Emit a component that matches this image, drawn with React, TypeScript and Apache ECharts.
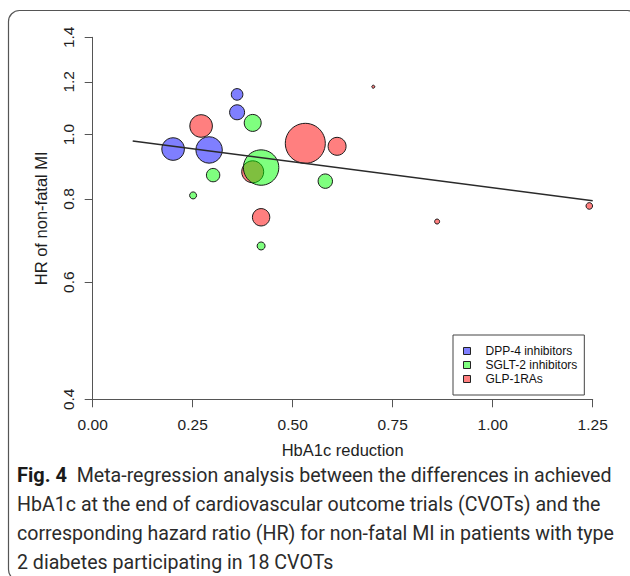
import React, { useEffect, useRef } from "react";
import * as echarts from "echarts";

// ---- data ----
const groupNames = ["DPP-4 inhibitors", "SGLT-2 inhibitors", "GLP-1RAs"];

const dppX = [0.361, 0.361, 0.201, 0.291];
const dppHR = [1.149, 1.08, 0.951, 0.948];
const dppWeight = [5.8, 7.5, 11.3, 13.2];

const sgltX = [0.4, 0.301, 0.251, 0.421, 0.5815, 0.421];
const sgltHR = [1.041, 0.869, 0.81, 0.892, 0.851, 0.68];
const sgltWeight = [8.5, 6.7, 3.5, 17.7, 7.2, 4];

const glpX = [0.271, 0.4, 0.5315, 0.611, 0.421, 0.861, 1.2415, 0.7015];
const glpHR = [1.03, 0.879, 0.97, 0.96, 0.751, 0.74, 0.781, 1.18];
const glpWeight = [11.3, 11, 20, 9, 8.7, 2.5, 3.3, 1.5];

const fitX = [0.1, 1.25];
const fitHR = [0.978, 0.795];

const xTicks = [0, 0.25, 0.5, 0.75, 1.0, 1.25];
const yTicks = [0.4, 0.6, 0.8, 1.0, 1.2, 1.4];

const captionLines = [
  "{b|Fig. 4}  Meta-regression analysis between the differences in achieved",
  "HbA1c at the end of cardiovascular outcome trials (CVOTs) and the",
  "corresponding hazard ratio (HR) for non-fatal MI in patients with type",
  "2 diabetes participating in 18 CVOTs",
];

const colors = ["rgba(0,0,255,0.5)", "rgba(0,255,0,0.5)", "rgba(255,0,0,0.5)"];

const FONT = "'Liberation Sans', Arial, Helvetica, sans-serif";
const CAP_FONT = "Roboto, 'Noto Sans', sans-serif";

function build(xs: number[], hrs: number[], ws: number[]) {
  return xs.map((x, i) => [x, Math.log(hrs[i]), ws[i]]);
}

export default function App() {
  const ref = useRef<HTMLDivElement>(null);
  useEffect(() => {
    if (!ref.current) return;
    const chart = echarts.init(ref.current, undefined, { renderer: "svg" });
    const groups = [
      build(dppX, dppHR, dppWeight),
      build(sgltX, sgltHR, sgltWeight),
      build(glpX, glpHR, glpWeight),
    ];
    // draw order: red first, then green, then blue
    const drawOrder = [2, 1, 0];
    const axisColor = "#555";
    const textColor = "#1e1e1e";
    const option: any = {
      animation: false,
      backgroundColor: "#fff",
      grid: { left: 92.7, top: 37.3, width: 500, height: 362, containLabel: false },
      xAxis: {
        type: "value",
        min: xTicks[0],
        max: xTicks[xTicks.length - 1],
        interval: 0.25,
        axisLine: { show: true, onZero: false, lineStyle: { color: axisColor, width: 1 } },
        axisTick: { show: true, length: 8, lineStyle: { color: axisColor } },
        axisLabel: {
          margin: 17,
          fontSize: 15.5,
          color: textColor,
          fontFamily: FONT,
          formatter: (v: number) => v.toFixed(2),
          showMinLabel: true,
          showMaxLabel: true,
        },
        splitLine: { show: false },
        name: "HbA1c reduction",
        nameLocation: "middle",
        nameGap: 42,
        nameTextStyle: { fontSize: 16.5, color: textColor, fontFamily: FONT },
      },
      yAxis: {
        type: "value",
        min: Math.log(yTicks[0]),
        max: Math.log(yTicks[yTicks.length - 1]),
        axisLine: { show: true, onZero: false, lineStyle: { color: axisColor, width: 1 } },
        axisTick: {
          show: true,
          length: 8,
          customValues: yTicks.map((v) => Math.log(v)),
          lineStyle: { color: axisColor },
        },
        axisLabel: {
          customValues: yTicks.map((v) => Math.log(v)),
          formatter: (v: number) => Math.exp(v).toFixed(1),
          rotate: 90,
          margin: 16,
          fontSize: 15.5,
          color: textColor,
          fontFamily: FONT,
        },
        splitLine: { show: false },
        name: "HR of non-fatal MI",
        nameLocation: "middle",
        nameGap: 43,
        nameRotate: 90,
        nameTextStyle: { fontSize: 16.5, color: textColor, fontFamily: FONT },
      },
      legend: {
        data: groupNames,
        orient: "vertical",
        left: 453,
        top: 335,
        padding: [9, 7, 9, 10],
        itemWidth: 7,
        itemHeight: 7,
        itemGap: 0,
        icon: "rect",
        borderColor: "#444",
        borderWidth: 1,
        borderRadius: 0,
        itemStyle: { borderColor: "#222", borderWidth: 1 },
        textStyle: {
          fontSize: 12,
          lineHeight: 14,
          color: "#111",
          fontFamily: FONT,
          padding: [0, 0, 0, 10],
        },
      },
      series: [
        ...drawOrder.map((gi) => ({
          type: "scatter",
          name: groupNames[gi],
          data: groups[gi],
          symbol: "circle",
          symbolSize: (v: number[]) => v[2] * 2,
          itemStyle: { color: colors[gi], borderColor: "#1a1a1a", borderWidth: 1, opacity: 1 },
          emphasis: { disabled: true },
          z: 2,
        })),
        {
          type: "line",
          name: "fit",
          data: fitX.map((x, i) => [x, Math.log(fitHR[i])]),
          showSymbol: false,
          symbol: "none",
          lineStyle: { color: "#2a2a2a", width: 1.5 },
          z: 3,
          silent: true,
        },
      ],
      graphic: [
        {
          type: "rect",
          shape: { x: 8.5, y: 10.5, width: 630, height: 570, r: 11 },
          style: { fill: "none", stroke: "#555", lineWidth: 1.2 },
          silent: true,
        },
        ...captionLines.map((t, i) => ({
          type: "text",
          x: 17,
          y: 475 + i * 29,
          style: {
            text: t,
            fontSize: 19.6,
            fontFamily: CAP_FONT,
            fill: "#2b2b2b",
            verticalAlign: "middle",
            rich: {
              b: { fontWeight: "bold", fontSize: 20, fontFamily: CAP_FONT, fill: "#1a1a1a" },
            },
          },
          silent: true,
        })),
      ],
    };
    chart.setOption(option);
    return () => chart.dispose();
  }, []);
  return (
    <div
      ref={ref}
      style={{ position: "absolute", left: 0, top: 0, width: 630, height: 576 }}
    />
  );
}
